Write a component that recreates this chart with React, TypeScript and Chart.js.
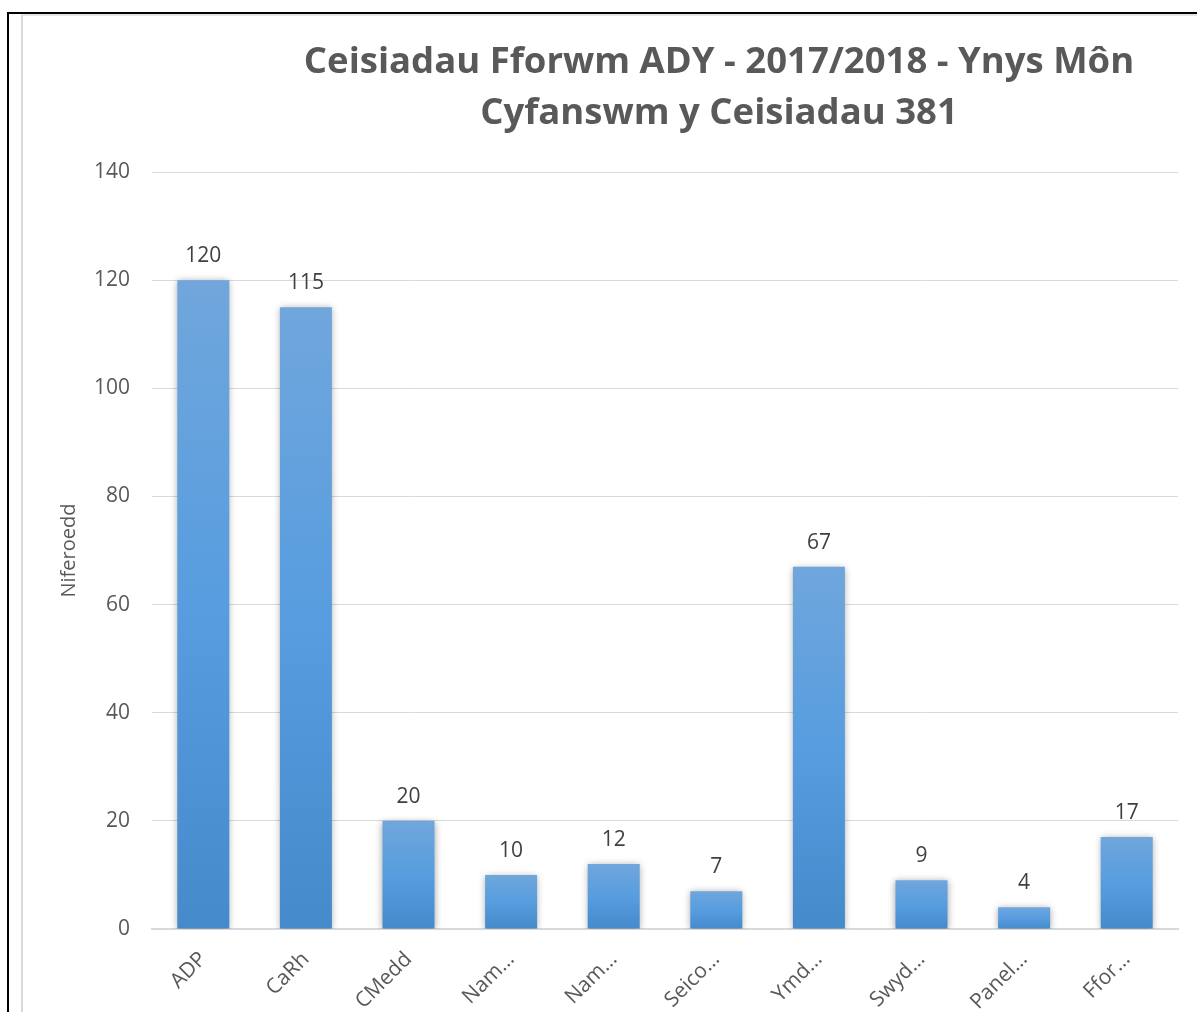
import React, { useEffect, useRef } from "react";
import { Chart, registerables } from "chart.js";

Chart.register(...registerables);

const titleLines = ["Ceisiadau Fforwm ADY - 2017/2018 - Ynys Môn", "Cyfanswm y Ceisiadau 381"];
const categories = ["ADP", "CaRh", "CMedd", "Nam…", "Nam…", "Seico…", "Ymd…", "Swyd…", "Panel…", "Ffor…"];
const values = [120, 115, 20, 10, 12, 7, 67, 9, 4, 17];
const yTitle = "Niferoedd";
const yMin = 0;
const yMax = 140;
const yStep = 20;

const FONT = "'Open Sans', 'Noto Sans', sans-serif";

const titlePlugin = {
  id: "centeredTitle",
  afterDraw(chart: any) {
    const ctx = chart.ctx;
    ctx.save();
    ctx.font = `bold 36.5px ${FONT}`;
    ctx.fillStyle = "#595959";
    ctx.textAlign = "center";
    ctx.textBaseline = "middle";
    const cx = 696;
    ctx.fillText(titleLines[0], cx, 47);
    ctx.fillText(titleLines[1], cx, 98);
    ctx.restore();
  },
};

const shadowPlugin = {
  id: "barShadow",
  beforeDatasetsDraw(chart: any) {
    const ctx = chart.ctx;
    ctx.save();
    ctx.shadowColor = "rgba(0,0,0,0.35)";
    ctx.shadowBlur = 7;
    ctx.shadowOffsetX = 0;
    ctx.shadowOffsetY = 1;
  },
  afterDatasetsDraw(chart: any) {
    chart.ctx.restore();
  },
};

const labelPlugin = {
  id: "valueLabels",
  afterDatasetsDraw(chart: any) {
    const ctx = chart.ctx;
    const meta = chart.getDatasetMeta(0);
    ctx.save();
    ctx.font = `21px ${FONT}`;
    ctx.fillStyle = "#404040";
    ctx.textAlign = "center";
    ctx.textBaseline = "middle";
    meta.data.forEach((el: any, i: number) => {
      ctx.fillText(String(values[i]), el.x, el.y - 24);
    });
    ctx.restore();
  },
};

export default function App() {
  const ref = useRef<HTMLCanvasElement | null>(null);

  useEffect(() => {
    if (!ref.current) return;
    const chart = new Chart(ref.current, {
      type: "bar",
      data: {
        labels: categories,
        datasets: [
          {
            data: values,
            backgroundColor: (c: any) => {
              const ch = c.chart;
              const ys = ch.scales && ch.scales.y;
              if (!ys || c.parsed == null || c.parsed.y == null) return "#5a9ddd";
              const top = ys.getPixelForValue(c.parsed.y);
              const bottom = ys.getPixelForValue(0);
              if (!isFinite(top) || !isFinite(bottom) || top === bottom) return "#5a9ddd";
              const g = ch.ctx.createLinearGradient(0, top, 0, bottom);
              g.addColorStop(0, "#70a6dc");
              g.addColorStop(0.5, "#579ddf");
              g.addColorStop(1, "#458acb");
              return g;
            },
            borderWidth: 0,
            barPercentage: 0.507,
            categoryPercentage: 1,
          },
        ],
      },
      options: {
        animation: false,
        responsive: false,
        maintainAspectRatio: false,
        layout: { padding: { left: 0, right: 241, top: 156, bottom: 0 } },
        plugins: {
          legend: { display: false },
          tooltip: { enabled: false },
          title: { display: false },
        },
        scales: {
          x: {
            grid: { display: false },
            border: { display: true, color: "#d9d9d9", width: 2 },
            ticks: {
              color: "#595959",
              font: { family: FONT, size: 21 },
              minRotation: 45,
              maxRotation: 45,
              autoSkip: false,
              padding: 10,
            },
            afterFit: (s: any) => {
              s.height = 87;
            },
          },
          y: {
            min: yMin,
            max: yMax,
            grid: { color: "#d9d9d9", lineWidth: 1, drawTicks: false },
            border: { display: false },
            ticks: {
              stepSize: yStep,
              color: "#595959",
              font: { family: FONT, size: 21 },
              padding: 22,
            },
            title: {
              display: true,
              text: yTitle,
              color: "#595959",
              font: { family: FONT, size: 20 },
              padding: { top: 34, bottom: 0 },
            },
            afterFit: (s: any) => {
              s.width = 129;
            },
          },
        },
      },
      plugins: [shadowPlugin, labelPlugin, titlePlugin],
    });
    return () => chart.destroy();
  }, []);

  return (
    <div
      style={{
        position: "absolute",
        left: 7,
        top: 12,
        width: 1190,
        height: 1000,
        overflow: "hidden",
        borderTop: "2px solid #000",
        borderLeft: "2px solid #000",
        background: "#fff",
      }}
    >
      <div
        style={{
          position: "absolute",
          left: 12,
          top: 0,
          width: 1400,
          height: 1004,
          borderTop: "2px solid #e6e6e6",
          borderLeft: "2px solid #d9d9d9",
          background: "#fff",
        }}
      >
        <canvas ref={ref} width={1396} height={1000} style={{ display: "block" }} />
      </div>
    </div>
  );
}
